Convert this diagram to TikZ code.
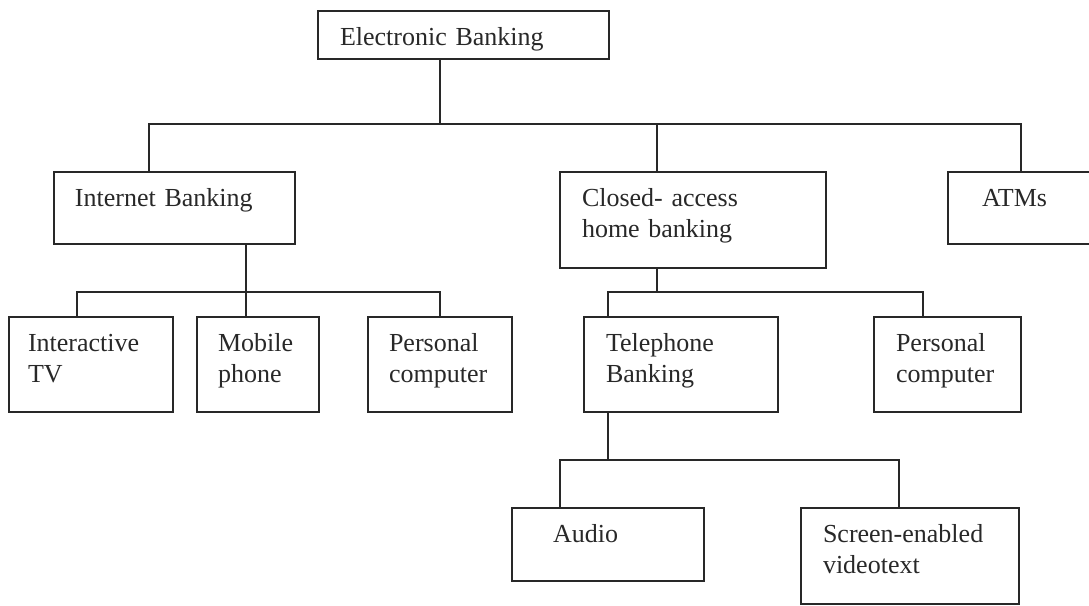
\documentclass[tikz,border=0pt]{standalone}
\usepackage{fontspec}
\setmainfont{Liberation Serif}
\definecolor{ink}{RGB}{40,40,40}

\begin{document}
\begin{tikzpicture}[x=0.5pt,y=-0.5pt,line width=0.9pt,draw=ink,
  box/.style={draw=ink,text=ink,anchor=north west,outer sep=0pt,inner ysep=0pt,inner xsep=11pt,
    align=left,text height=17pt,font=\fontsize{13}{15.5}\selectfont}]
\path[use as bounding box] (0,0) rectangle (1089,606);
\clip (0,0) rectangle (1089,606);

% Boxes
\node[box,text width=123.5pt,text depth=7pt] (eb) at (318,11) {Electronic Banking};
\node[box,inner xsep=10.5pt,text width=99.5pt,text depth=19pt] (ib) at (54,172) {Internet Banking};
\node[box,text width=111pt,text depth=31pt] (ch) at (560,172) {Closed- access\\home banking};
\node[box,inner xsep=17pt,text width=42pt,text depth=19pt] (atm) at (948,172) {ATMs};

\node[box,inner xsep=9.5pt,text width=63pt,text depth=30.5pt] (itv) at (9,317) {Interactive\\TV};
\node[box,inner xsep=10.5pt,text width=40pt,text depth=30.5pt] (mob) at (197,317) {Mobile\\phone};
\node[box,inner xsep=10.5pt,text width=51pt,text depth=30.5pt] (pc) at (368,317) {Personal\\computer};
\node[box,text width=75pt,text depth=30.5pt] (tel) at (584,317) {Telephone\\Banking};
\node[box,text width=51.5pt,text depth=30.5pt] (hpc) at (874,317) {Personal\\computer};

\node[box,inner xsep=20.5pt,text width=55pt,text depth=19.5pt] (aud) at (512,508) {Audio};
\node[box,text width=87pt,text depth=31pt] (sev) at (801,508) {Screen-enabled\\videotext};

% Branch points
\coordinate (top) at (440,124);
\coordinate (ibj) at (246,292);
\coordinate (chj) at (657,292);
\coordinate (telj) at (608,460);

% Connectors
\draw (top |- eb.south) -- (top);
\draw (top) -| ([xshift=47.5pt]ib.north west);
\draw (top) -| ([xshift=48.5pt]ch.north west);
\draw (top) -| ([xshift=36.5pt]atm.north west);

\draw ([xshift=96pt]ib.south west) -- ([xshift=24.5pt]mob.north west);
\draw ([xshift=34pt]itv.north west) |- (ibj) -| ([xshift=36pt]pc.north west);

\draw ([xshift=48.5pt]ch.south west) -- (chj);
\draw ([xshift=12pt]tel.north west) |- (chj) -| ([xshift=24.5pt]hpc.north west);

\draw ([xshift=12pt]tel.south west) -- (telj);
\draw ([xshift=24pt]aud.north west) |- (telj) -| ([xshift=49pt]sev.north west);
\end{tikzpicture}
\end{document}
